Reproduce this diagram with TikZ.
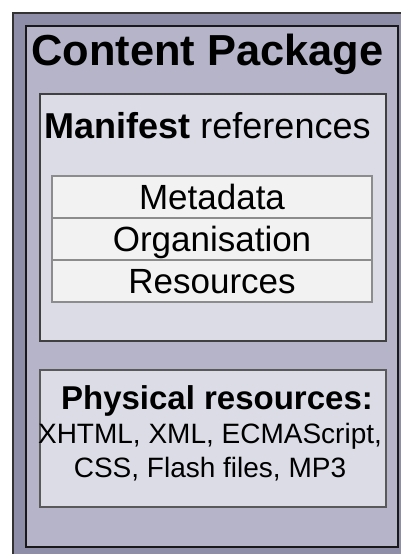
\documentclass[tikz,border=0pt]{standalone}
\usepackage{fontspec}
\setmainfont{Liberation Sans}
\definecolor{outerfill}{HTML}{8F8EA8}
\definecolor{pkgfill}{HTML}{B5B4C9}
\definecolor{boxfill}{HTML}{DCDCE6}
\definecolor{rowfill}{HTML}{F2F2F2}
\definecolor{rowline}{HTML}{8C8C8C}
\tikzset{
  pkgbox/.style={draw={black!90}, line width=2.2pt, fill=pkgfill, minimum width=372pt, minimum height=521pt},
  mfbox/.style={draw={black!75}, line width=2pt, fill=boxfill, minimum width=346pt, minimum height=247pt},
  rowbox/.style={draw=rowline, line width=1.5pt, fill=rowfill, minimum width=320pt, minimum height=42pt,
    text height=25pt, text depth=0pt, inner sep=0pt, font=\fontsize{35pt}{40pt}\selectfont},
  physbox/.style={draw={black!65}, line width=1.5pt, fill=boxfill, minimum width=346pt, minimum height=137pt}
}
\begin{document}
\begin{tikzpicture}[x=1pt, y=-1pt, inner sep=0pt, outer sep=0pt]

\useasboundingbox (0, 0) rectangle (401, 554);
\clip (0, 0) rectangle (401, 554);

% Frame
\draw[line width=2pt, draw={black!80}, fill=outerfill] (12.5, 12.5) rectangle (430, 580);
\node[pkgbox] (package) at (212, 286.5) {};
\node[anchor=base, font=\fontsize{43.4pt}{50pt}\selectfont\bfseries] (pkgtitle) at (207.5, 65) {Content Package};

% Manifest
\node[mfbox] (manifest) at (212.75, 217.5) {};
\node[anchor=base, font=\fontsize{36pt}{42pt}\selectfont] (mftitle) at (207.5, 138) {\textbf{Manifest} references};
\node[rowbox] (metadata) at (212, 197) {Metadata};
\node[rowbox] (organisation) at (212, 239) {Organisation};
\node[rowbox] (resources) at (212, 281) {Resources};

% Physical resources
\node[physbox] (physical) at (212.75, 438.5) {};
\node[anchor=base, font=\fontsize{33pt}{38pt}\selectfont\bfseries] (phystitle) at (217, 409) {Physical resources:};
\node[anchor=base, font=\fontsize{28pt}{34pt}\selectfont] (physline1) at (210, 443) {XHTML, XML, ECMAScript,};
\node[anchor=base, font=\fontsize{28pt}{34pt}\selectfont] (physline2) at (210, 477) {CSS, Flash files, MP3};

\end{tikzpicture}
\end{document}
